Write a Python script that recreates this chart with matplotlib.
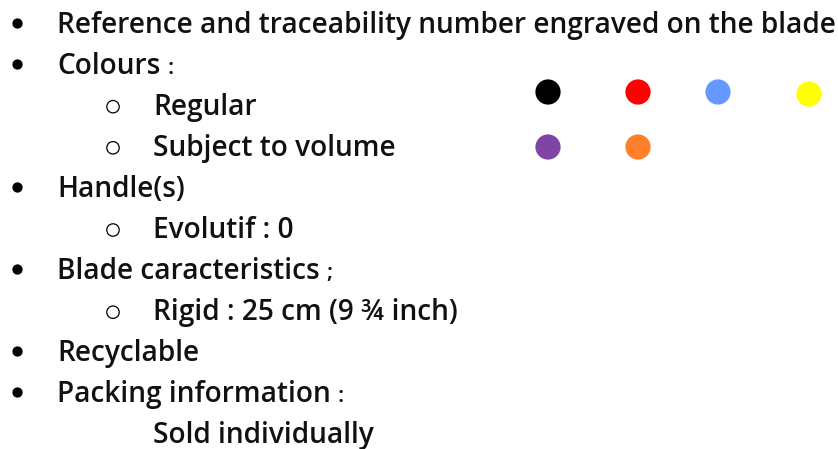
import matplotlib
matplotlib.use("Agg")
import matplotlib.pyplot as plt

lines = [
    "Reference and traceability number engraved on the blade",
    "Colours",
    "Regular",
    "Subject to volume",
    "Handle(s)",
    "Evolutif : 0",
    "Blade caracteristics",
    "Rigid : 25 cm (9 ¾ inch)",
    "Recyclable",
    "Packing information",
    "Sold individually",
]
suffixes = ["", ":", "", "", "", "", ";", "", "", ":", ""]
levels = [1, 1, 2, 2, 1, 2, 1, 2, 1, 1, 2]
bullets = ["disc", "disc", "ring", "ring", "disc", "ring", "disc", "ring", "disc", "disc", None]

dot_colors = ["#000000", "#ff0000", "#6699ff", "#ffff00", "#8044a4", "#ff7f2a"]
dot_row = [0, 0, 0, 0, 1, 1]
dot_col = [0, 1, 2, 3, 0, 1]

W, H = 838, 449
fig = plt.figure(figsize=(W / 100, H / 100), dpi=100)
ax = fig.add_axes([0, 0, 1, 1])
ax.set_xlim(0, W)
ax.set_ylim(H, 0)
ax.axis("off")

family = ["Open Sans", "DejaVu Sans"]
weight = "semibold"
b0, dy = 32.5, 41.1
x_text = {1: 57, 2: 153}
x_bul = {1: 17, 2: 113}

# fit font size so that first line spans ~776 px
fs = 20
t = ax.text(x_text[1], b0, lines[0], fontsize=fs, family=family, va="baseline", ha="left",
            fontweight=weight)
fig.canvas.draw()
renderer = fig.canvas.get_renderer()
w = t.get_window_extent(renderer).width
fs = fs * 776 / w
t.remove()

for i, (txt, suf, lv, b) in enumerate(zip(lines, suffixes, levels, bullets)):
    yb = b0 + i * dy
    tt = ax.text(x_text[lv], yb, txt, fontsize=fs, family=family, va="baseline", ha="left",
                 color="#111111", fontweight=weight)
    if suf:
        fig.canvas.draw()
        bb = tt.get_window_extent(renderer)
        ax.text(bb.x1 + 7, yb, suf, fontsize=fs * 0.8, family=family, va="baseline",
                ha="left", color="#111111", fontweight=weight)
    yc = yb - 9
    if b == "disc":
        ax.scatter([x_bul[lv]], [yc - 1], s=55, c="#000000", marker="o", linewidths=0)
    elif b == "ring":
        ax.scatter([x_bul[lv]], [yc + 1], s=80, facecolors="none", edgecolors="#000000",
                   marker="o", linewidths=0.9)

col_x = [548, 638, 718, 809]
row_y = [92, 147]
xs = [col_x[c] for c in dot_col]
ys = [row_y[r] + (2 if (r == 0 and c == 3) else 0) for r, c in zip(dot_row, dot_col)]
ax.scatter(xs, ys, s=330, c=dot_colors, marker="o", linewidths=0)

fig.savefig("out.png", dpi=100)
